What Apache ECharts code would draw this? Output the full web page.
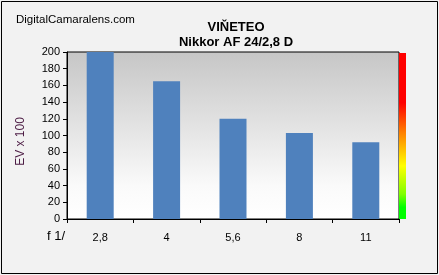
<!DOCTYPE html>
<html><head><meta charset="utf-8">
<script src="https://cdn.jsdelivr.net/npm/echarts@6/dist/echarts.min.js"></script>
<style>html,body{margin:0;padding:0;background:#f2f2f2}#c{width:439px;height:275px}</style>
</head><body><div id="c"></div>
<script>
const categories = ['2,8', '4', '5,6', '8', '11'];
const values = [200, 165, 120, 103, 92];
const yTicks = {min: 0, max: 200, interval: 20};

const chart = echarts.init(document.getElementById('c'));
const font = 'Arial, "Liberation Sans", sans-serif';
chart.setOption({
  backgroundColor: '#f2f2f2',
  animation: false,
  title: [
    {text: 'VIŇETEO', left: 231, top: 16, textAlign: 'center',
     textStyle: {fontFamily: font, fontSize: 13, fontWeight: 'bold', color: '#000'}},
    {text: 'Nikkor AF 24/2,8 D', left: 231, top: 31, textAlign: 'center',
     textStyle: {fontFamily: font, fontSize: 13, fontWeight: 'bold', color: '#000'}},
    {text: 'DigitalCamaralens.com', left: 11, top: 9,
     textStyle: {fontFamily: font, fontSize: 11.5, fontWeight: 'normal', color: '#000'}}
  ],
  grid: {
    left: 67, right: 40, top: 52, bottom: 56, show: true,
    borderColor: '#000', borderWidth: 1,
    backgroundColor: {type: 'linear', x: 0, y: 0, x2: 0, y2: 1,
      colorStops: [{offset: 0, color: '#c6c6c6'}, {offset: 0.8, color: '#fafafa'}, {offset: 1, color: '#ffffff'}]}
  },
  xAxis: {
    type: 'category', data: categories,
    axisLine: {lineStyle: {color: '#000'}},
    axisTick: {show: true, length: 4, lineStyle: {color: '#000'}},
    axisLabel: {fontFamily: font, fontSize: 11, color: '#000', margin: 13}
  },
  yAxis: {
    type: 'value', min: yTicks.min, max: yTicks.max, interval: yTicks.interval,
    name: 'EV x 100', nameLocation: 'middle', nameGap: 40,
    nameTextStyle: {fontFamily: font, fontSize: 12, color: '#4a1942', padding: [0, 12, 0, 0]},
    axisLine: {show: true, lineStyle: {color: '#000'}},
    axisTick: {show: true, length: 4, lineStyle: {color: '#000'}},
    splitLine: {show: false},
    axisLabel: {fontFamily: font, fontSize: 11, color: '#000', margin: 7}
  },
  series: [{
    type: 'bar', data: values, barWidth: 27,
    itemStyle: {color: '#4f81bd'}
  }],
  graphic: [
    {type: 'rect', shape: {x: 399, y: 53, width: 7, height: 166}, z: 10,
     style: {fill: {type: 'linear', x: 0, y: 0, x2: 0, y2: 1, colorStops: [
       {offset: 0, color: '#ff0000'}, {offset: 0.3, color: '#ff0000'},
       {offset: 0.48, color: '#ff8000'}, {offset: 0.68, color: '#ffff00'},
       {offset: 0.85, color: '#80ff00'}, {offset: 0.93, color: '#00ff00'}, {offset: 1, color: '#00ff00'}]}}},
    {type: 'text', left: 47, top: 230, z: 10,
     style: {text: 'f 1/', font: '13px ' + font, fill: '#000'}},
    {type: 'rect', shape: {x: 1.5, y: 1.5, width: 436, height: 272}, z: 20,
     style: {fill: 'none', stroke: '#000', lineWidth: 1}}
  ]
});
</script></body></html>
